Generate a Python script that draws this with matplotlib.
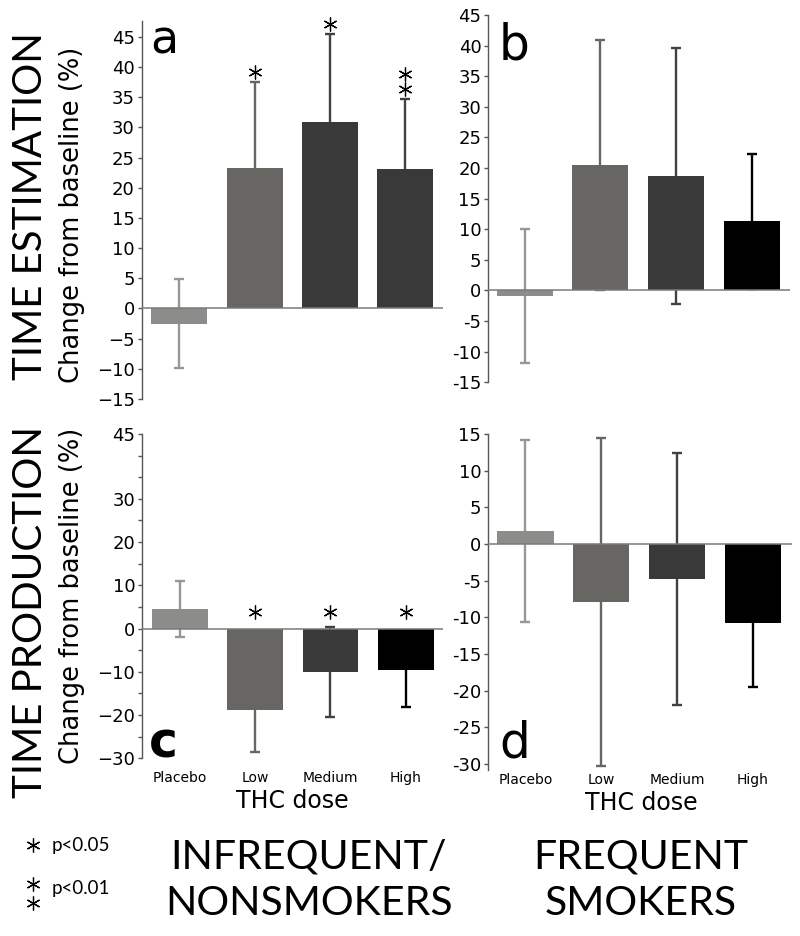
import matplotlib
matplotlib.use('Agg')
import matplotlib.pyplot as plt
from matplotlib import transforms
import numpy as np

doses = ['Placebo', 'Low', 'Medium', 'High']

# a: time estimation, infrequent/nonsmokers
est_inf_mean = [-2.5, 23.3, 30.9, 23.2]
est_inf_err = [7.4, 14.3, 14.6, 11.5]
est_inf_sig = [0, 1, 1, 2]
# b: time estimation, frequent smokers
est_freq_mean = [-0.9, 20.5, 18.7, 11.3]
est_freq_err = [10.9, 20.4, 20.9, 11.0]
# c: time production, infrequent/nonsmokers
prod_inf_mean = [4.6, -18.9, -10.0, -9.5]
prod_inf_err = [6.5, 9.7, 10.4, 8.7]
prod_inf_sig = [0, 1, 1, 1]
# d: time production, frequent smokers
prod_freq_mean = [1.8, -7.9, -4.8, -10.8]
prod_freq_err = [12.4, 22.4, 17.2, 8.7]

bar_a = ['#8c8c8a', '#676662', '#3a3939', '#3a3939']
err_a = ['#979797', '#676662', '#424141', '#424141']
bar_k = ['#8c8c8a', '#676662', '#3a3939', '#000000']
err_k = ['#979797', '#676662', '#424141', '#000000']

W, H = 800, 936
fig = plt.figure(figsize=(W / 100, H / 100), dpi=100)
big = ['Lato', 'DejaVu Sans']


def add_ax(left, top, right, bottom):
    return fig.add_axes([left / W, 1 - bottom / H, (right - left) / W, (bottom - top) / H])


def panel(ax, means, errs, colors, ecolors, ylim, xlim, ticks, shown, minus, sig=None, zero_base=False,
          show_x=False, xpad=2):
    x = np.arange(1, len(means) + 1)
    for xi, m, e, ec in zip(x, means, errs, ecolors):
        ax.errorbar(xi, m, yerr=e, color=ec, lw=1.7, capsize=3.8, capthick=1.7, zorder=1)
    ax.bar(x, means, width=0.74, color=colors, zorder=2)
    ax.axhline(0, color='#7a7a7a', lw=1.1, zorder=3)
    ax.set_xlim(*xlim)
    ax.set_ylim(*ylim)
    for s in ['top', 'right', 'bottom']:
        ax.spines[s].set_visible(False)
    ax.spines['left'].set_color('#555555')
    ax.spines['left'].set_linewidth(1.0)
    labels = [(f'{t:g}'.replace('-', minus) if t in shown else '') for t in ticks]
    ax.set_yticks(ticks, labels)
    ax.tick_params(axis='y', length=3, width=1, color='#555555', labelsize=13, pad=2)
    if show_x:
        ax.set_xticks(x, doses)
        ax.tick_params(axis='x', length=0, labelsize=10, pad=xpad)
    else:
        ax.set_xticks([])
    if sig:
        for xi, m, e, n in zip(x, means, errs, sig):
            base = 0 if zero_base else m + e
            for k in range(n):
                off = (12 if zero_base else 7) + k * 11
                tr = transforms.offset_copy(ax.transData, fig=fig, x=0, y=off, units='points')
                ax.plot(xi, base, marker=(6, 2, 0), ms=10, mew=0.9, color='black', transform=tr,
                        clip_on=False, zorder=4)


ax_a = add_ax(141.7, 20.7, 443, 399)
panel(ax_a, est_inf_mean, est_inf_err, bar_a, err_a, (-15, 47.7), (0.5, 4.5),
      np.arange(-15, 50, 5), list(range(-15, 50, 5)), '\u2212', sig=est_inf_sig)

ax_b = add_ax(488.3, 15, 789.6, 382.3)
panel(ax_b, est_freq_mean, est_freq_err, bar_k, err_k, (-15, 45), (0.52, 4.5),
      np.arange(-15, 50, 5), list(range(-15, 50, 5)), '-')

ax_c = add_ax(142.3, 434, 443.3, 758.3)
panel(ax_c, prod_inf_mean, prod_inf_err, bar_k, err_k, (-30, 45), (0.5, 4.5),
      np.arange(-30, 50, 5), [45, 30, 20, 10, 0, -10, -20, -30], '\u2212', sig=prod_inf_sig,
      zero_base=True, show_x=True, xpad=9)

ax_d = add_ax(488.3, 434, 791.7, 770)
panel(ax_d, prod_freq_mean, prod_freq_err, bar_k, err_k, (-30.8, 15), (0.51, 4.51),
      np.arange(-30, 20, 5), list(range(-30, 20, 5)), '-', show_x=True, xpad=2)

# panel letters
fig.text(150 / W, 1 - 53 / H, 'a', fontsize=33, va='baseline')
fig.text(499 / W, 1 - 59 / H, 'b', fontsize=35, va='baseline')
fig.text(149 / W, 1 - 757 / H, 'c', fontsize=35, fontweight='bold', va='baseline')
fig.text(499 / W, 1 - 757 / H, 'd', fontsize=35, va='baseline')

# axis titles
for y, txt in [(206, 'TIME ESTIMATION'), (612, 'TIME PRODUCTION')]:
    fig.text(42 / W, 1 - y / H, txt, rotation=90, rotation_mode='anchor', ha='center', va='baseline',
             fontsize=29, family=big)
for y in [215, 596]:
    fig.text(79 / W, 1 - y / H, 'Change from baseline (%)', rotation=90, rotation_mode='anchor',
             ha='center', va='baseline', fontsize=18.5)
fig.text(292 / W, 1 - 808 / H, 'THC dose', ha='center', va='baseline', fontsize=17)
fig.text(641 / W, 1 - 810 / H, 'THC dose', ha='center', va='baseline', fontsize=17)

# group names
fig.text(309 / W, 1 - 868 / H, 'INFREQUENT/', ha='center', va='baseline', fontsize=29.5, family=big)
fig.text(309 / W, 1 - 915 / H, 'NONSMOKERS', ha='center', va='baseline', fontsize=29.5, family=big)
fig.text(641 / W, 1 - 868 / H, 'FREQUENT', ha='center', va='baseline', fontsize=29.5, family=big)
fig.text(641 / W, 1 - 915 / H, 'SMOKERS', ha='center', va='baseline', fontsize=29.5, family=big)

# significance key
fig.text(52 / W, 1 - 851 / H, 'p<0.05', va='baseline', fontsize=13.5, family=big)
fig.text(52 / W, 1 - 894 / H, 'p<0.01', va='baseline', fontsize=13.5, family=big)
for yy in [845, 884, 903]:
    fig.add_artist(plt.Line2D([33 / W], [1 - yy / H], marker=(6, 2, 0), ms=10, mew=0.9, color='black',
                              transform=fig.transFigure))

fig.savefig('out.png', dpi=100)
